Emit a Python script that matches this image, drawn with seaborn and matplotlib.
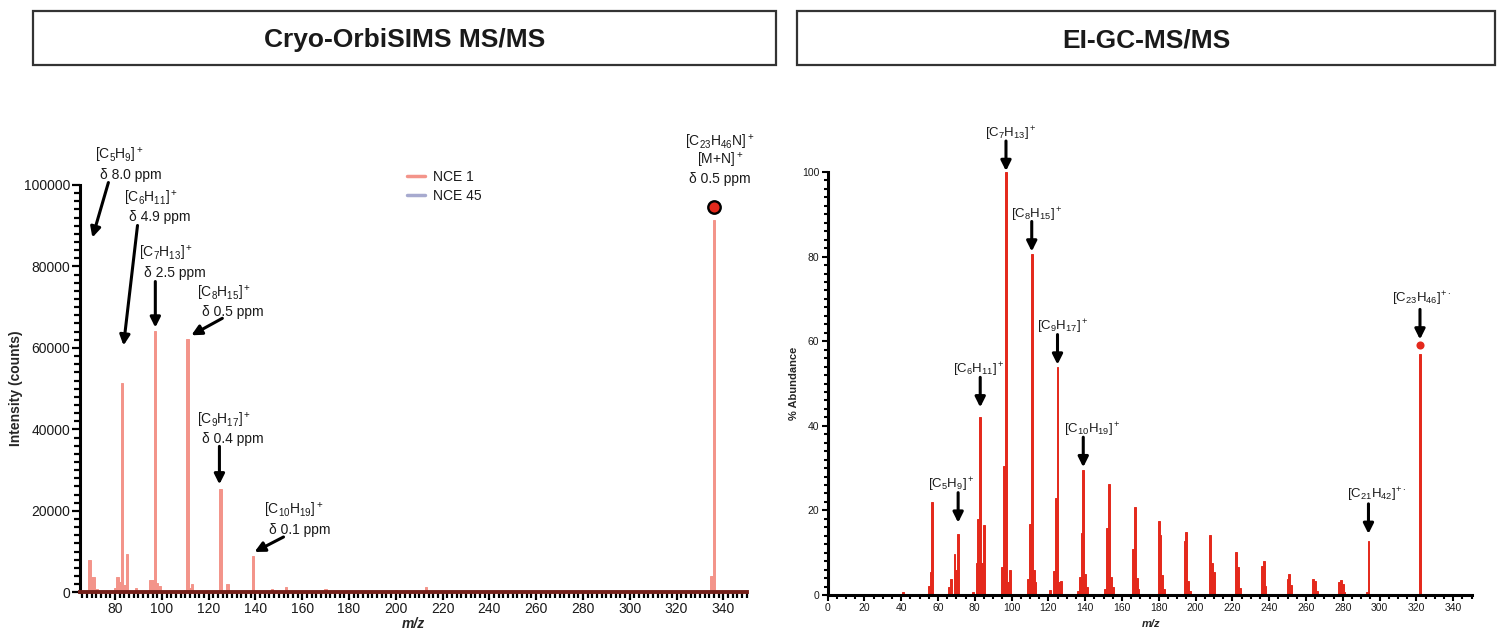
import matplotlib
matplotlib.use("Agg")
import matplotlib.pyplot as plt
import pandas as pd
import seaborn as sns
from matplotlib.lines import Line2D
from matplotlib.patches import Rectangle
from matplotlib.ticker import MultipleLocator

# ---------------- data ----------------
# Cryo-OrbiSIMS MS/MS spectrum (NCE 1), nominal m/z and counts
sims_mz = [69, 70, 71, 72, 74, 77, 80, 81, 82, 83, 84, 85, 87, 89, 91, 93,
           95, 96, 97, 98, 99, 100, 101, 103, 105, 107, 109, 110, 111, 112,
           113, 115, 117, 119, 121, 123, 125, 126, 127, 128, 131, 135, 137,
           139, 141, 143, 147, 149, 151, 153, 155, 157, 163, 165, 167, 170,
           175, 181, 185, 195, 200, 209, 213, 223, 237, 251, 265, 290, 335, 336]
sims_counts = [7900, 3750, 3750, 730, 300, 250, 980, 3830, 2600, 51300, 1700,
               9300, 300, 1000, 400, 350, 2950, 2950, 64200, 2200, 1550, 400,
               300, 300, 250, 300, 350, 570, 62300, 1100, 2000, 300, 250, 300,
               300, 350, 25300, 400, 300, 1960, 250, 300, 300, 8980, 300, 250,
               730, 250, 300, 1390, 250, 250, 200, 250, 300, 820, 200, 300,
               200, 250, 450, 250, 1200, 200, 200, 200, 200, 300, 3900, 91400]
sims_parent_mz = 336
sims_parent_counts = 94600

# EI-GC-MS/MS spectrum, nominal m/z and % abundance
ei_mz = [41, 43, 55, 56, 57, 66, 67, 69, 70, 71, 79, 81, 82, 83, 84, 85,
         95, 96, 97, 98, 99, 109, 110, 111, 112, 113, 121, 123, 124, 125, 126,
         127, 136, 137, 138, 139, 140, 141, 151, 152, 153, 154, 155, 166, 167,
         168, 169, 180, 181, 182, 183, 194, 195, 196, 197, 208, 209, 210, 222,
         223, 224, 236, 237, 238, 250, 251, 252, 264, 265, 266, 278, 279, 280,
         281, 293, 294, 322]
ei_abundance = [0.7, 0.3, 2.2, 5.5, 22.0, 1.8, 3.8, 9.6, 6.0, 14.5, 0.6, 7.5,
                18.0, 42.0, 7.5, 16.5, 6.7, 30.4, 100.0, 3.0, 6.0, 3.9, 16.7,
                80.5, 6.0, 3.0, 1.2, 5.6, 23.0, 54.0, 3.0, 3.4, 1.0, 4.2, 14.6,
                29.5, 5.0, 2.0, 1.4, 15.9, 26.2, 4.2, 2.0, 10.9, 20.8, 4.0, 1.4,
                17.4, 14.1, 4.7, 1.4, 12.8, 14.9, 3.4, 1.0, 14.1, 7.6, 5.4, 10.1,
                6.6, 1.7, 6.9, 8.0, 2.2, 3.8, 5.0, 2.4, 3.9, 3.2, 0.9, 3.1, 3.6,
                2.6, 0.6, 0.8, 12.8, 57.0]
ei_parent_mz = 322
ei_parent_abundance = 59

panel_titles = ["Cryo-OrbiSIMS MS/MS", "EI-GC-MS/MS"]
series_labels = ["NCE 1", "NCE 45"]

sims_xticks = list(range(80, 341, 20))
sims_yticks = [0, 20000, 40000, 60000, 80000, 100000]
ei_xticks = list(range(0, 341, 20))
ei_yticks = [0, 20, 40, 60, 80, 100]

# fragment labels, Cryo-OrbiSIMS panel
sims_ions = [r"[C$_5$H$_9$]$^+$", r"[C$_6$H$_{11}$]$^+$", r"[C$_7$H$_{13}$]$^+$",
             r"[C$_8$H$_{15}$]$^+$", r"[C$_9$H$_{17}$]$^+$", r"[C$_{10}$H$_{19}$]$^+$"]
sims_ppm = ["δ 8.0 ppm", "δ 4.9 ppm", "δ 2.5 ppm", "δ 0.5 ppm", "δ 0.4 ppm", "δ 0.1 ppm"]
sims_parent_lines = [r"[C$_{23}$H$_{46}$N]$^+$", r"[M+N]$^+$", "δ 0.5 ppm"]

# fragment labels, EI panel
ei_ions = [r"[C$_5$H$_9$]$^+$", r"[C$_6$H$_{11}$]$^+$", r"[C$_7$H$_{13}$]$^+$",
           r"[C$_8$H$_{15}$]$^+$", r"[C$_9$H$_{17}$]$^+$", r"[C$_{10}$H$_{19}$]$^+$",
           r"[C$_{21}$H$_{42}$]$^{+\cdot}$", r"[C$_{23}$H$_{46}$]$^{+\cdot}$"]
ei_ion_mz = [71, 83, 97, 111, 125, 139, 294, 322]

# ---------------- styling ----------------
SALMON = "#F3948A"
LAVENDER = "#A7AACF"
RED = "#E4291C"
DARKRED = "#74201A"

sns.set_theme(style="ticks")
plt.rcParams["font.family"] = ["Liberation Sans", "DejaVu Sans"]
plt.rcParams["mathtext.fontset"] = "custom"
plt.rcParams["mathtext.rm"] = "Liberation Sans"
plt.rcParams["mathtext.it"] = "Liberation Sans:italic"
plt.rcParams["mathtext.bf"] = "Liberation Sans:bold"
plt.rcParams["mathtext.default"] = "regular"
plt.rcParams["text.color"] = "#1a1a1a"

W, H = 1497, 638
fig = plt.figure(figsize=(W / 100, H / 100), dpi=100)
fig.patch.set_facecolor("white")

ax1 = fig.add_axes([80 / W, (H - 592.3) / H, 666.7 / W, 407.3 / H])
ax2 = fig.add_axes([827.5 / W, (H - 595) / H, 644 / W, 423 / H])

ARROW = dict(arrowstyle="-|>", color="black", lw=2.2, mutation_scale=15,
             shrinkA=0, shrinkB=0)

# ---------------- Cryo-OrbiSIMS panel ----------------
sims_df = pd.DataFrame({"mz": sims_mz, "counts": sims_counts})
sns.histplot(data=sims_df, x="mz", weights="counts", discrete=True, shrink=1.0,
             color=SALMON, alpha=1, edgecolor=SALMON, linewidth=0.7, ax=ax1)
ax1.scatter([sims_parent_mz], [sims_parent_counts], s=80, color=RED,
            edgecolor="black", linewidth=1.7, zorder=6, clip_on=False)

ax1.set_xlim(65, 350)
ax1.set_ylim(0, 100000)
ax1.set_xticks(sims_xticks)
ax1.set_xticklabels([str(v) for v in sims_xticks])
ax1.xaxis.set_minor_locator(MultipleLocator(2))
ax1.set_yticks(sims_yticks)
ax1.set_yticklabels([str(v) for v in sims_yticks])
ax1.yaxis.set_minor_locator(MultipleLocator(2000))
sns.despine(ax=ax1)
ax1.spines["left"].set_linewidth(2.2)
ax1.spines["left"].set_color("black")
ax1.spines["bottom"].set_linewidth(2.8)
ax1.spines["bottom"].set_color(DARKRED)
ax1.tick_params(axis="both", which="major", length=6, width=1.6, color="black",
                labelsize=10, pad=1.0, labelcolor="#1a1a1a")
ax1.tick_params(axis="both", which="minor", length=4, width=1.6, color="black")
ax1.set_ylabel("Intensity (counts)", fontsize=10, fontweight="bold")
ax1.yaxis.set_label_coords(-0.0855, 0.5)
ax1.set_xlabel("m/z", fontsize=10, fontweight="bold", fontstyle="italic")
ax1.xaxis.set_label_coords(0.4995, -0.06)

# arrow tips (data) with tail / text offsets in pixels
sims_tip_mz = [70.3, 83.6, 97.2, 112.6, 124.6, 139.6]
sims_tip_counts = [87100, 60600, 65000, 63100, 26500, 9900]
sims_tail_off = [(16, 55), (14, 120), (0, 46), (31, 17), (0, 38), (29, 15)]
sims_text_off = [(8, 59), (5, 124), (-11, 51), (11, 19), (-17, 41), (14, 18)]
for ion, ppm, mz, cnt, tail, txt in zip(sims_ions, sims_ppm, sims_tip_mz,
                                        sims_tip_counts, sims_tail_off, sims_text_off):
    ax1.annotate("", xy=(mz, cnt), xytext=tail, textcoords="offset pixels",
                 arrowprops=ARROW, annotation_clip=False)
    ax1.annotate(ppm, xy=(mz, cnt), xytext=txt, textcoords="offset pixels",
                 ha="left", va="baseline", fontsize=10, annotation_clip=False)
    ax1.annotate(ion, xy=(mz, cnt), xytext=(txt[0] - 5, txt[1] + 19),
                 textcoords="offset pixels", ha="left", va="baseline",
                 fontsize=10, annotation_clip=False)

for i, line in enumerate(sims_parent_lines):
    ax1.annotate(line, xy=(sims_parent_mz, sims_parent_counts),
                 xytext=(6, 60 - 18 * i), textcoords="offset pixels",
                 ha="center", va="baseline", fontsize=10, annotation_clip=False)

handles = [Line2D([0], [0], color=SALMON, lw=2.5),
           Line2D([0], [0], color=LAVENDER, lw=2.5)]
ax1.legend(handles, series_labels, loc="upper left", bbox_to_anchor=(0.49, 1.037),
           frameon=False, fontsize=10, handlelength=1.3, handletextpad=0.6,
           labelspacing=0.35, borderpad=0, borderaxespad=0)

# ---------------- EI panel ----------------
ei_df = pd.DataFrame({"mz": ei_mz, "abundance": ei_abundance})
sns.histplot(data=ei_df, x="mz", weights="abundance", discrete=True, shrink=1.0,
             color=RED, alpha=1, edgecolor=RED, linewidth=0.7, ax=ax2)
ax2.scatter([ei_parent_mz], [ei_parent_abundance], s=34, color=RED,
            linewidth=0, zorder=6, clip_on=False)

ax2.set_xlim(0, 350)
ax2.set_ylim(0, 100)
ax2.set_xticks(ei_xticks)
ax2.set_xticklabels([str(v) for v in ei_xticks])
ax2.xaxis.set_minor_locator(MultipleLocator(5))
ax2.set_yticks(ei_yticks)
ax2.set_yticklabels([str(v) for v in ei_yticks])
ax2.yaxis.set_minor_locator(MultipleLocator(2))
sns.despine(ax=ax2)
for side in ("left", "bottom"):
    ax2.spines[side].set_linewidth(2.2)
    ax2.spines[side].set_color("black")
ax2.tick_params(axis="both", which="major", length=4.5, width=1.5, color="black",
                labelsize=7.5, pad=1.5, labelcolor="#1a1a1a")
ax2.tick_params(axis="both", which="minor", length=3, width=1.5, color="black")
ax2.set_ylabel("% Abundance", fontsize=8, fontweight="bold")
ax2.yaxis.set_label_coords(-0.044, 0.5)
ax2.set_xlabel("m/z", fontsize=8, fontweight="bold", fontstyle="italic")
ax2.xaxis.set_label_coords(0.502, -0.057)

ei_lookup = dict(zip(ei_mz, ei_abundance))
ei_gap = [11, 10, 1, 3, 2, 3, 7, 6]
ei_text_dx = [-7, -1, 5, 5, 5, 9, 8, 2]
ei_text_dy = [4, 4, 4, 3, 4, 4, 6, 7]
for ion, mz, gap, tdx, tdy in zip(ei_ions, ei_ion_mz, ei_gap, ei_text_dx, ei_text_dy):
    val = ei_parent_abundance if mz == ei_parent_mz else ei_lookup[mz]
    ax2.annotate("", xy=(mz, val), xytext=(0, gap + 30), textcoords="offset pixels",
                 arrowprops=dict(ARROW, shrinkB=gap * 0.72), annotation_clip=False)
    ax2.annotate(ion, xy=(mz, val), xytext=(tdx, gap + 30 + tdy),
                 textcoords="offset pixels", ha="center", va="baseline",
                 fontsize=9.5, annotation_clip=False)

# ---------------- panel headers ----------------
boxes = [(33, 776), (797, 1495)]
for (x0, x1), title in zip(boxes, panel_titles):
    fig.add_artist(Rectangle((x0 / W, (H - 65) / H), (x1 - x0) / W, 54 / H,
                             transform=fig.transFigure, fill=False,
                             edgecolor="#333333", linewidth=1.6))
    fig.text((x0 + x1) / 2 / W, (H - 40) / H, title, ha="center", va="center",
             fontsize=19, fontweight="bold", color="#1a1a1a")

fig.savefig("out.png", dpi=100, facecolor="white")
